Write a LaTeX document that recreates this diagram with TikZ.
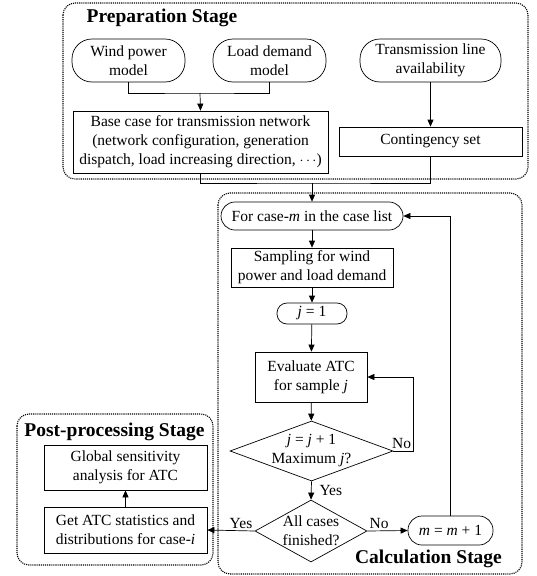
\documentclass[tikz,border=0pt]{standalone}
\usepackage{fontspec}
\setmainfont{Liberation Serif}
\usetikzlibrary{arrows.meta, shapes.geometric, positioning}
\tikzset{
  box/.style={draw, line width=0.7pt, align=center, inner sep=1pt, font=\fontsize{15.5}{19}\selectfont},
  terminal/.style={box, rectangle, rounded corners=#1},
  terminal/.default=20pt,
  process/.style={box, rectangle},
  decision/.style={box, diamond, inner sep=0pt},
  stage/.style={draw, densely dotted, line width=1.1pt, rounded corners=12pt},
  stagetitle/.style={font=\fontsize{19.5}{23}\selectfont\bfseries, inner sep=0pt},
  tag/.style={font=\fontsize{15.5}{19}\selectfont, inner sep=2pt},
}

\begin{document}
\begin{tikzpicture}[x=1pt, y=-1pt, >={Triangle[length=7pt,width=6pt]}, line width=0.7pt]
\useasboundingbox (0,0) rectangle (536,576);
% stage frames
\draw[stage] (63,3) rectangle (528,179);
\draw[stage] (218,193) rectangle (522,574);
\draw[stage] (17,414) rectangle (213,565);
\node[stagetitle] (preptitle) at (162,18) {Preparation Stage};
\node[stagetitle] (calctitle) at (428.5,559) {Calculation Stage};
\node[stagetitle] (posttitle) at (114.5,432) {Post-processing Stage};
% preparation
\node[terminal, minimum width=113pt, minimum height=43pt] (wind) at (128.5,60.5) {Wind power\\model};
\node[terminal, minimum width=113pt, minimum height=43pt] (load) at (269.5,60.5) {Load demand\\model};
\node[terminal, minimum width=141pt, minimum height=43pt] (trans) at (430.5,60.5) {Transmission line\\availability};
\node[process, minimum width=255pt, minimum height=62pt] (basecase) at (200.5,142) {Base case for transmission network\\(network configuration, generation\\dispatch, load increasing direction, $\cdots$)};
\node[process, minimum width=183pt, minimum height=29pt] (conting) at (430.5,141.5) {Contingency set};
\coordinate (windjoin) at (200,93);
\coordinate (prepjoin) at (312,183);
% calculation
\node[terminal=14pt, minimum width=182pt, minimum height=28pt] (forcase) at (312,216) {For case-\textit{m} in the case list};
\node[process, minimum width=162pt, minimum height=39pt] (sampling) at (312,267.5) {Sampling for wind\\power and load demand};
\node[terminal=10pt, minimum width=70pt, minimum height=21pt] (jone) at (312,313.5) {\textit{j} = 1};
\node[process, minimum width=112pt, minimum height=50pt] (evaluate) at (311,377) {Evaluate ATC\\for sample \textit{j}};
\node[decision, minimum width=163pt, minimum height=60pt, label={[tag, align=center]center:{\textit{j} = \textit{j} + 1\\Maximum \textit{j}?}}] (loopchk) at (311.5,451) {};
\node[decision, minimum width=112pt, minimum height=62pt, label={[tag, align=center]center:{All cases\\finished?}}] (allchk) at (311,531) {};
\node[terminal=14pt, minimum width=85pt, minimum height=29pt] (mnext) at (450.5,530.5) {\textit{m} = \textit{m} + 1};
% post-processing
\node[process, minimum width=163pt, minimum height=45pt] (global) at (125.5,467.5) {Global sensitivity\\analysis for ATC};
\node[process, minimum width=163pt, minimum height=46pt] (getatc) at (125.5,530) {Get ATC statistics and\\distributions for case-\textit{i}};
% connectors
\draw (wind.south) |- (windjoin) -| (load.south);
\draw[->] (windjoin) -- (basecase.north);
\draw[->] (trans) -- (conting);
\draw (basecase.south) |- (prepjoin) -| (conting.south);
\draw[->] (prepjoin) -- (forcase.north);
\draw[->] (forcase) -- (sampling);
\draw[->] (sampling) -- (jone);
\draw[->] (jone) -- (evaluate);
\draw[->] (evaluate) -- (loopchk);
\draw[->] (loopchk.east) -- ++(20,0) node[tag, above left]{No} |- (evaluate.east);
\draw[->] (loopchk.south) -- node[tag, right=6pt]{Yes} (allchk.north);
\draw[->] (allchk.east) -- node[tag, above right, pos=0]{No} (mnext.west);
\draw[->] (allchk.west) -- node[tag, above left, pos=0]{Yes} (getatc.east);
\draw[->] (mnext.north) |- (forcase.east);
\draw[->] (getatc) -- (global);
\end{tikzpicture}
\end{document}
